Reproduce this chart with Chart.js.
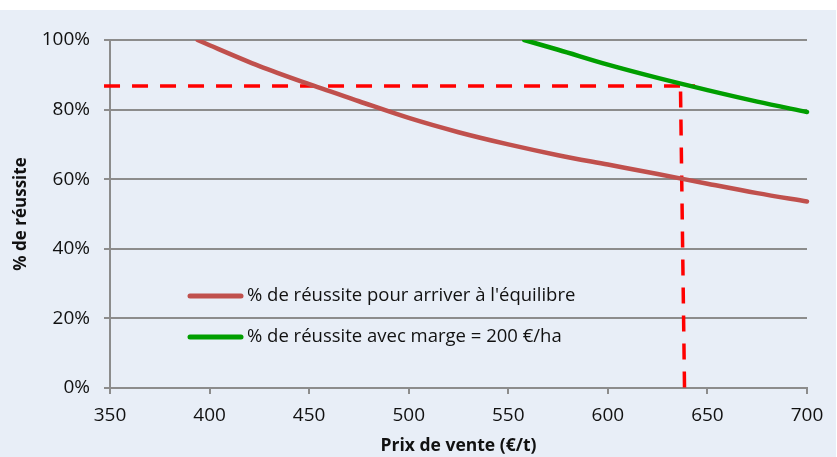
<!DOCTYPE html>
<html lang="fr">
<head>
    <meta charset="UTF-8">
    <title>% de réussite selon le prix de vente</title>
    <script src="https://cdn.jsdelivr.net/npm/chart.js"></script>
    <style>
        body {
            margin: 0;
            background: #ffffff;
        }

        #chart {
            display: block;
            margin-top: 10px;
        }
    </style>
</head>
<body>
    <canvas id="chart" width="836" height="447"></canvas>

    <script>
        // Values
        const seriesLabels = ["% de réussite pour arriver à l'équilibre", '% de réussite avec marge = 200 €/ha'];

        const prixEquilibre = [394, 400, 425, 450, 475, 500, 525, 550, 575, 600, 625, 650, 675, 700];
        const reussiteEquilibre = [100, 98.5, 92.5, 87.3, 82.4, 77.6, 73.5, 70, 66.9, 64.2, 61.5, 58.7, 56, 53.6];

        const prixMarge = [558, 575, 600, 625, 650, 675, 700];
        const reussiteMarge = [100, 97.2, 92.9, 89.1, 85.6, 82.3, 79.3];

        // Red dashed reading lines
        const repereHorizX = [347, 643.8];
        const repereHorizY = [86.8, 86.8];
        const repereVertX = [636.5, 638.5];
        const repereVertY = [85.2, 0];

        const xTicks = [350, 400, 450, 500, 550, 600, 650, 700];
        const yTicks = [0, 20, 40, 60, 80, 100];

        const toPoints = (xs, ys) => xs.map((x, i) => ({ x: x, y: ys[i] }));

        const gridGray = '#8c8c8c';
        Chart.defaults.font.family = "'Open Sans', sans-serif";
        Chart.defaults.color = '#111111';

        // Background + legend drawn inside the plot
        const backgroundPlugin = {
            id: 'background',
            beforeDraw(chart) {
                const ctx = chart.ctx;
                ctx.save();
                ctx.fillStyle = '#e8eef7';
                ctx.fillRect(0, 0, chart.width, chart.height);
                ctx.restore();
            }
        };

        const insideLegend = {
            id: 'insideLegend',
            afterDraw(chart) {
                const ctx = chart.ctx;
                const rows = [
                    { color: '#c0504d', y: 286 },
                    { color: '#009e00', y: 327 }
                ];
                ctx.save();
                rows.forEach((row, i) => {
                    ctx.strokeStyle = row.color;
                    ctx.lineWidth = 5;
                    ctx.lineCap = 'round';
                    ctx.beginPath();
                    ctx.moveTo(190, row.y);
                    ctx.lineTo(241, row.y);
                    ctx.stroke();
                    ctx.fillStyle = '#111111';
                    ctx.font = "18.5px 'Open Sans', sans-serif";
                    ctx.textBaseline = 'middle';
                    ctx.fillText(seriesLabels[i], 247, row.y);
                });
                ctx.restore();
            }
        };

        const ctx = document.getElementById('chart').getContext('2d');
        const chart = new Chart(ctx, {
            type: 'scatter',
            data: {
                datasets: [{
                    label: seriesLabels[0],
                    data: toPoints(prixEquilibre, reussiteEquilibre),
                    showLine: true,
                    borderColor: '#c0504d',
                    borderWidth: 4.5,
                    pointRadius: 0,
                    cubicInterpolationMode: 'monotone',
                    borderCapStyle: 'round',
                    clip: { left: 0, top: 0, right: 5, bottom: 0 }
                }, {
                    label: seriesLabels[1],
                    data: toPoints(prixMarge, reussiteMarge),
                    showLine: true,
                    borderColor: '#009e00',
                    borderWidth: 4.5,
                    pointRadius: 0,
                    cubicInterpolationMode: 'monotone',
                    borderCapStyle: 'round',
                    clip: { left: 0, top: 0, right: 5, bottom: 0 }
                }, {
                    label: 'repère horizontal',
                    data: toPoints(repereHorizX, repereHorizY),
                    showLine: true,
                    borderColor: '#ff0000',
                    borderWidth: 3.5,
                    borderDash: [16, 12],
                    pointRadius: 0,
                    clip: false
                }, {
                    label: 'repère vertical',
                    data: toPoints(repereVertX, repereVertY),
                    showLine: true,
                    borderColor: '#ff0000',
                    borderWidth: 3.5,
                    borderDash: [16, 12],
                    pointRadius: 0,
                    clip: false
                }]
            },
            options: {
                responsive: false,
                animation: false,
                devicePixelRatio: 1,
                layout: {
                    padding: { top: 30, right: 29, left: 0, bottom: 0 }
                },
                plugins: {
                    legend: { display: false },
                    tooltip: { enabled: false }
                },
                scales: {
                    x: {
                        type: 'linear',
                        min: xTicks[0],
                        max: xTicks[xTicks.length - 1],
                        afterFit: s => { s.height = 69; },
                        afterBuildTicks: s => { s.ticks = xTicks.map(v => ({ value: v })); },
                        ticks: {
                            font: { size: 19 },
                            padding: 10,
                            maxRotation: 0
                        },
                        grid: {
                            drawOnChartArea: false,
                            drawTicks: true,
                            tickLength: 6,
                            color: gridGray,
                            lineWidth: 2
                        },
                        border: { display: true, color: gridGray, width: 2 },
                        title: {
                            display: true,
                            text: 'Prix de vente (€/t)',
                            font: { size: 17.5, weight: 'bold' },
                            padding: { top: 0, bottom: 0 }
                        }
                    },
                    y: {
                        min: yTicks[0],
                        max: yTicks[yTicks.length - 1],
                        afterFit: s => { s.width = 110; },
                        afterBuildTicks: s => { s.ticks = yTicks.map(v => ({ value: v })); },
                        ticks: {
                            font: { size: 19 },
                            padding: 14,
                            callback: v => v + '%'
                        },
                        grid: {
                            drawTicks: true,
                            tickLength: 6,
                            color: gridGray,
                            lineWidth: 2
                        },
                        border: { display: true, color: gridGray, width: 2 },
                        title: {
                            display: true,
                            text: '% de réussite',
                            font: { size: 17, weight: 'bold' },
                            padding: { top: 11, bottom: 0 }
                        }
                    }
                }
            },
            plugins: [backgroundPlugin, insideLegend]
        });
    </script>
</body>
</html>
